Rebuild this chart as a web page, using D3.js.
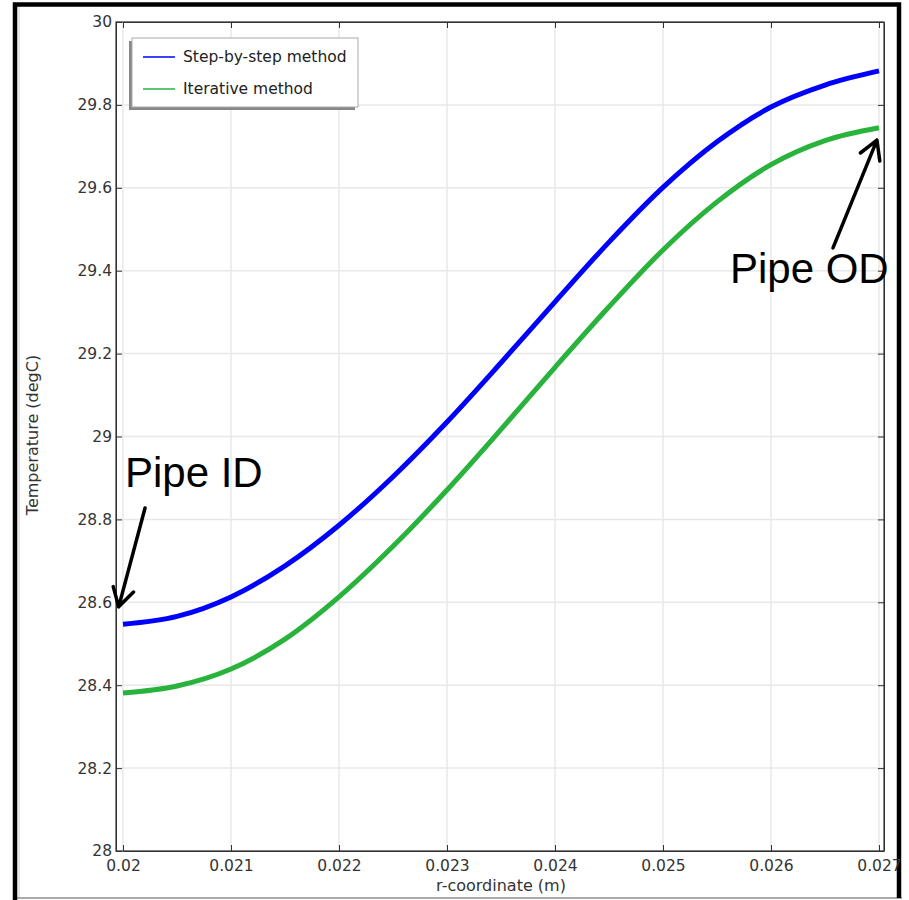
<!DOCTYPE html>
<html>
<head>
<meta charset="utf-8">
<script src="https://cdn.jsdelivr.net/npm/d3@7"></script>
<style>
  body { margin: 0; background: #fff; }
  svg text { font-family: "DejaVu Sans", sans-serif; }
</style>
</head>
<body>
<div id="plot"></div>
<script>
// values
let rCoord = [0.020, 0.0205, 0.021, 0.0215, 0.022, 0.0225, 0.023, 0.0235,
  0.024, 0.0245, 0.025, 0.0255, 0.026, 0.0265, 0.027]
let stepByStep = [28.547, 28.566, 28.613, 28.688, 28.786, 28.903, 29.035, 29.178,
  29.325, 29.469, 29.601, 29.711, 29.795, 29.848, 29.882]
let iterative = [28.381, 28.398, 28.439, 28.511, 28.613, 28.735, 28.871, 29.017,
  29.167, 29.313, 29.45, 29.566, 29.656, 29.714, 29.745]
let seriesNames = ['Step-by-step method', 'Iterative method']
let xTicks = [0.02, 0.021, 0.022, 0.023, 0.024, 0.025, 0.026, 0.027]
let yTicks = [28, 28.2, 28.4, 28.6, 28.8, 29, 29.2, 29.4, 29.6, 29.8, 30]

let colors = ['#0000ff', '#29b33c']

let svg = d3.select('#plot').append('svg')
  .attr('width', 909)
  .attr('height', 900)

// window frame
svg.append('rect').attr('width', 909).attr('height', 900).attr('fill', '#fff')
svg.append('line').attr('x1', 19).attr('x2', 19).attr('y1', 6).attr('y2', 898)
  .attr('stroke', '#e6e6e6').attr('stroke-width', 2)
svg.append('line').attr('x1', 13).attr('x2', 902).attr('y1', 898).attr('y2', 898)
  .attr('stroke', '#aaa').attr('stroke-width', 2)
svg.append('path')
  .attr('d', 'M15,900 V4.5 H899 V898')
  .attr('fill', 'none').attr('stroke', '#000').attr('stroke-width', 4.5)

let pLeft = 116, pRight = 884, pTop = 22, pBottom = 851

let x = d3.scaleLinear()
  .domain([0.02, 0.027])
  .range([123, 879])
let y = d3.scaleLinear()
  .domain([28, 30])
  .range([pBottom, pTop])

let fmt = d => String(+d.toFixed(3))

// grid
svg.append('g').selectAll('line').data(xTicks).enter().append('line')
  .attr('x1', d => x(d)).attr('x2', d => x(d))
  .attr('y1', pTop).attr('y2', pBottom)
  .attr('stroke', '#e8e8e8').attr('stroke-width', 1.5)
svg.append('g').selectAll('line').data(yTicks).enter().append('line')
  .attr('x1', pLeft).attr('x2', pRight)
  .attr('y1', d => y(d)).attr('y2', d => y(d))
  .attr('stroke', '#e8e8e8').attr('stroke-width', 1.5)

// axes
let axisStyle = function(g) {
  g.selectAll('path').attr('stroke', '#333')
  g.selectAll('line').attr('stroke', '#333')
  g.selectAll('text').attr('fill', '#333').style('font-size', '15.5px')
}

svg.append('g')
  .attr('transform', 'translate(0,' + pBottom + ')')
  .call(d3.axisBottom(x).tickValues(xTicks).tickFormat(fmt).tickSize(-6).tickPadding(9).tickSizeOuter(0))
  .call(axisStyle)
svg.append('g')
  .attr('transform', 'translate(0,' + pTop + ')')
  .call(d3.axisTop(x).tickValues(xTicks).tickFormat('').tickSize(-6).tickSizeOuter(0))
  .call(axisStyle)
svg.append('g')
  .attr('transform', 'translate(' + pLeft + ',0)')
  .call(d3.axisLeft(y).tickValues(yTicks).tickFormat(fmt).tickSize(-6).tickPadding(4).tickSizeOuter(0))
  .call(axisStyle)
svg.append('g')
  .attr('transform', 'translate(' + pRight + ',0)')
  .call(d3.axisRight(y).tickValues(yTicks).tickFormat('').tickSize(-6).tickSizeOuter(0))
  .call(axisStyle)

// frame
svg.append('rect')
  .attr('x', pLeft).attr('y', pTop)
  .attr('width', pRight - pLeft).attr('height', pBottom - pTop)
  .attr('fill', 'none').attr('stroke', '#333').attr('stroke-width', 1.2)

// axis titles
svg.append('text')
  .attr('x', 501).attr('y', 891)
  .attr('text-anchor', 'middle')
  .attr('fill', '#333')
  .style('font-size', '16px')
  .text('r-coordinate (m)')
svg.append('text')
  .attr('transform', 'translate(38,435) rotate(-90)')
  .attr('text-anchor', 'middle')
  .attr('fill', '#333')
  .style('font-size', '16px')
  .text('Temperature (degC)')

// curves
let line = d3.line()
  .x((d, i) => x(rCoord[i]))
  .y(d => y(d))
  .curve(d3.curveMonotoneX)

;[stepByStep, iterative].forEach(function(vals, i) {
  svg.append('path')
    .datum(vals)
    .attr('d', line)
    .attr('fill', 'none')
    .attr('stroke', colors[i])
    .attr('stroke-width', 5)
})

// legend
let lg = svg.append('g').attr('transform', 'translate(132,38)')
lg.append('rect').attr('x', -3).attr('y', 3).attr('width', 226).attr('height', 69)
  .attr('fill', '#888')
lg.append('rect').attr('width', 226).attr('height', 69)
  .attr('fill', '#fff').attr('stroke', '#aaa').attr('stroke-width', 1)
seriesNames.forEach(function(name, i) {
  lg.append('line')
    .attr('x1', 11).attr('x2', 43)
    .attr('y1', 19 + i * 32).attr('y2', 19 + i * 32)
    .attr('stroke', colors[i]).attr('stroke-width', 1.5)
  lg.append('text')
    .attr('x', 51).attr('y', 19 + i * 32)
    .attr('dy', '0.35em')
    .attr('fill', '#222')
    .style('font-size', '15.5px')
    .text(name)
})

// annotations
function arrow(x1, y1, x2, y2) {
  let a = Math.atan2(y1 - y2, x1 - x2)
  let len = 21, spread = Math.PI / 6
  let p = 'M' + x1 + ',' + y1 + 'L' + x2 + ',' + y2
  p += 'M' + (x2 + len * Math.cos(a + spread)) + ',' + (y2 + len * Math.sin(a + spread))
  p += 'L' + x2 + ',' + y2
  p += 'L' + (x2 + len * Math.cos(a - spread)) + ',' + (y2 + len * Math.sin(a - spread))
  svg.append('path').attr('d', p)
    .attr('fill', 'none').attr('stroke', '#000')
    .attr('stroke-width', 3.5).attr('stroke-linecap', 'round').attr('stroke-linejoin', 'round')
}

arrow(x(0.020204), y(28.8275), x(0.01996), y(28.589))
arrow(x(0.026574), y(29.455), x(0.026981), y(29.715))

svg.append('text')
  .attr('x', x(0.020018)).attr('y', y(28.878))
  .style('font-family', '"Liberation Sans", Arial, sans-serif')
  .style('font-size', '42px')
  .text('Pipe ID')
svg.append('text')
  .attr('x', x(0.02562)).attr('y', y(29.37))
  .style('font-family', '"Liberation Sans", Arial, sans-serif')
  .style('font-size', '42px')
  .text('Pipe OD')
</script>
</body>
</html>
